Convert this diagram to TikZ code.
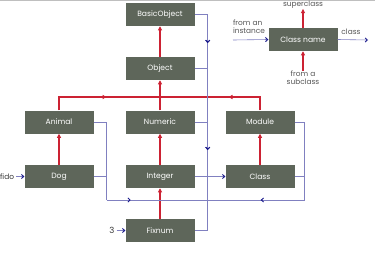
\documentclass[tikz,border=0pt]{standalone}
\usepackage{fontspec}
\setmainfont{Poppins}
\usetikzlibrary{arrows.meta,decorations.markings}
\definecolor{boxc}{HTML}{5E665A}
\definecolor{redc}{HTML}{CC2233}
\definecolor{bluel}{HTML}{8080C0}
\definecolor{blued}{HTML}{1A1A8C}
\definecolor{txtg}{HTML}{555555}
\tikzset{
  x=1pt, y=-1pt,
  cls/.style={fill=boxc, text=white, minimum width=69pt, minimum height=23pt, inner sep=0pt, font=\fontsize{7.6}{8}\selectfont},
  lbl/.style={text=txtg, inner sep=0pt, font=\fontsize{7.4}{7.8}\selectfont},
  redtip/.tip={Triangle[length=4.2pt,width=4pt,color=redc]},
  bluetip/.tip={Straight Barb[length=2.2pt,width=4.2pt,color=blued,line width=0.9pt]},
  supline/.style={draw=redc, line width=1.2pt},
  supar/.style={supline, -redtip},
  instline/.style={draw=bluel, line width=0.6pt},
  instar/.style={instline, -bluetip},
  midred/.style={postaction=decorate, decoration={markings, mark=at position #1 with {\arrow{redtip}}}},
  midblue/.style={postaction=decorate, decoration={markings, mark=at position #1 with {\arrow{bluetip}}}},
}
\begin{document}
\begin{tikzpicture}
\useasboundingbox (0,0) rectangle (375,265);
\draw[gray!50, line width=1pt] (0,0.5) -- (375,0.5);
% class boxes
\node[cls] (bo)   at (160,14.5)  {BasicObject};
\node[cls] (ob)   at (160,68.5)  {Object};
\node[cls] (anim) at (59,122)    {Animal};
\node[cls] (num)  at (160,122)   {Numeric};
\node[cls] (mod)  at (260,122)   {Module};
\node[cls] (dog)  at (59,176.5)  {Dog};
\node[cls] (int)  at (160,176.5) {Integer};
\node[cls] (cls)  at (260,176.5) {Class};
\node[cls] (fix)  at (160,230.5) {Fixnum};
% legend
\node[cls] (cn) at (303,39.5) {Class name};
\node[lbl] (supl) at (303,5) {superclass};
\node[lbl, align=center] (subl) at (303,77.5) {from a\\subclass};
\node[lbl, align=left] (instl) at (249,26.5) {from an\\instance};
\node[lbl] (clsl) at (351,32) {class};
\coordinate (ia) at (233,40);
\coordinate (ca) at (368,40);
\draw[supar] (cn.north) -- (supl.south);
\draw[supar] (subl.north) -- (cn.south);
\draw[instar] (ia) -- (cn.west);
\draw[instar] (cn.east) -- (ca);
% superclass links
\coordinate (hub) at (160,97);
\draw[supar] (ob.north) -- (bo.south);
\draw[supar] (num.north) -- (ob.south);
\draw[supline, midred=61pt] (anim.north) |- (hub);
\draw[supline, midred=45pt] (mod.north) |- (hub);
\draw[supar] (dog.north) -- (anim.south);
\draw[supar] (int.north) -- (num.south);
\draw[supar] (fix.north) -- (int.south);
\draw[supar] (cls.north) -- (mod.south);
% class links
\coordinate (bot) at (207,200);
\draw[instline] (bo.east) -- ++(13,0) coordinate (r0);
\draw[instline, midblue=28.5pt, midblue=135.5pt] (r0) -- (r0 |- fix.east) -- (fix.east);
\draw[instline] (ob.east) -- (ob.east -| r0);
\draw[instline] (num.east) -- (num.east -| r0);
\draw[instar] (int.east) -- (cls.west);
\draw[instline] (anim.east) -- ++(13,0) coordinate (lx) -- (lx |- bot);
\draw[instline] (dog.east) -- (dog.east -| lx);
\draw[instline, midblue=24pt] (lx |- bot) -- (bot);
\draw[instline] (mod.east) -- ++(10,0) coordinate (rx) -- (rx |- bot);
\draw[instline] (cls.east) -- (cls.east -| rx);
\draw[instline, midblue=44pt] (rx |- bot) -- (bot);
% instances
\node[lbl, text=black!80] (fido) at (7,176.5) {fido};
\node[lbl, text=black!80, font=\fontsize{8.5}{9}\selectfont] (three) at (112,230.5) {3};
\draw[instar] (fido.east) ++(2,0) -- (dog.west);
\draw[instar] (three.east) ++(2,0) -- (fix.west);
\end{tikzpicture}
\end{document}
